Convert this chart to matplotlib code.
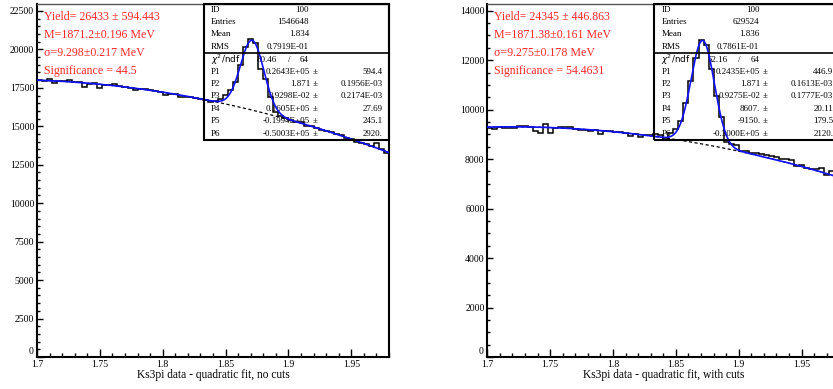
import numpy as np
import matplotlib
matplotlib.use("Agg")
import matplotlib.pyplot as plt
import matplotlib.patches as patches
from matplotlib.ticker import MultipleLocator, FormatStrFormatter, FuncFormatter

plt.rcParams["font.family"] = ["Liberation Serif", "DejaVu Serif"]
plt.rcParams["mathtext.fontset"] = "dejavusans"

# histogram binning: 70 bins from 1.7 to 1.98
x_lo, x_hi, n_bins = 1.7, 1.98, 70

counts_nocuts = [18000, 17960, 18080, 17830, 17950, 17920, 18020, 17880, 17860, 17550,
                 17780, 17820, 17520, 17710, 17660, 17720, 17590, 17560, 17520, 17350,
                 17450, 17400, 17370, 17280, 17230, 17020, 17080, 17100, 16900, 16920,
                 16900, 16860, 16760, 16700, 16600, 16620, 16750, 17030, 17360, 17900,
                 18980, 20170, 20660, 20400, 18700, 18100, 16900, 15900, 15650, 15550,
                 15420, 15300, 15250, 15000, 15030, 14920, 14780, 14720, 14600, 14500,
                 14420, 14250, 14180, 14000, 13920, 13850, 13700, 13900, 13550, 13250]

counts_cuts = [9270, 9230, 9300, 9250, 9260, 9250, 9330, 9340, 9280, 9150,
               9060, 9420, 9060, 9250, 9300, 9300, 9290, 9200, 9180, 9190,
               9150, 9160, 9000, 9140, 9130, 9110, 9080, 9060, 8950, 9020,
               8900, 8990, 8980, 9000, 8980, 8830, 9050, 9200, 9560, 10250,
               11150, 12100, 12800, 12620, 11650, 10550, 9720, 8700, 8600, 8560,
               8330, 8310, 8230, 8230, 8200, 8150, 8120, 8080, 7990, 8000,
               7950, 7720, 7780, 7650, 7600, 7580, 7650, 7350, 7500, 7300]

# fit parameters: yield, mean, sigma, p0, p1, p2 (quadratic background around mean)
fit_nocuts = [26433, 1.8712, 0.009298, 16050, -19940, -50030]
fit_cuts = [24345, 1.87138, 0.009275, 8607, -9150, -30000]

info_nocuts = ["Yield= 26433 ± 594.443", "M=1871.2±0.196 MeV",
               "σ=9.298±0.217 MeV", "Significance = 44.5"]
info_cuts = ["Yield= 24345 ± 446.863", "M=1871.38±0.161 MeV",
             "σ=9.275±0.178 MeV", "Significance = 54.4631"]

stats_nocuts = [("ID", "100"), ("Entries", "1546648"), ("Mean", "1.834"), ("RMS", "0.7919E-01")]
stats_cuts = [("ID", "100"), ("Entries", "629524"), ("Mean", "1.836"), ("RMS", "0.7861E-01")]

chi2_nocuts = ("80.46", "64")
chi2_cuts = ("52.16", "64")

pars_nocuts = [("P1", "0.2643E+05", "594.4"), ("P2", "1.871", "0.1956E-03"),
               ("P3", "0.9298E-02", "0.2174E-03"), ("P4", "0.1605E+05", "27.69"),
               ("P5", "-0.1994E+05", "245.1"), ("P6", "-0.5003E+05", "2920.")]
pars_cuts = [("P1", "0.2435E+05", "446.9"), ("P2", "1.871", "0.1613E-03"),
             ("P3", "0.9275E-02", "0.1777E-03"), ("P4", "8607.", "20.11"),
             ("P5", "-9150.", "179.5"), ("P6", "-0.3000E+05", "2120.")]

titles = ["Ks3pi data - quadratic fit, no cuts", "Ks3pi data - quadratic fit, with cuts"]

W, H = 833, 389
AX_W, AX_H = 352, 353
RED = "#ff2a2a"

fig = plt.figure(figsize=(W / 100, H / 100), dpi=100)


def draw_panel(left_px, counts, fit, info, stats, chi2, pars, title, ymax, ystep):
    ax = fig.add_axes([left_px / W, 32 / H, AX_W / W, AX_H / H])
    edges = np.linspace(x_lo, x_hi, n_bins + 1)
    bw = (x_hi - x_lo) / n_bins
    ax.stairs(counts, edges, baseline=None, color="black", lw=1.1, zorder=3)

    yld, m, s, p0, p1, p2 = fit
    xs = np.linspace(x_lo, x_hi, 800)
    bkg = p0 + p1 * (xs - m) + p2 * (xs - m) ** 2
    sig = yld * bw / (np.sqrt(2 * np.pi) * s) * np.exp(-0.5 * ((xs - m) / s) ** 2)
    ax.plot(xs, bkg, color="black", lw=0.9, dashes=(2.5, 2), zorder=3.5)
    ax.plot(xs, bkg + sig, color="#1010ff", lw=1.2, zorder=4)

    ax.set_xlim(x_lo, x_hi)
    ax.set_ylim(0, ymax)
    ax.xaxis.set_major_locator(MultipleLocator(0.05))
    ax.xaxis.set_minor_locator(MultipleLocator(0.01))
    ax.xaxis.set_major_formatter(FormatStrFormatter("%g"))
    ax.yaxis.set_major_locator(MultipleLocator(ystep))
    ax.yaxis.set_minor_locator(MultipleLocator(500))
    # the zero label sits a little higher, drawn separately below
    ax.yaxis.set_major_formatter(FuncFormatter(lambda v, p: "" if v == 0 else "%d" % v))
    ax.tick_params(axis="both", which="both", direction="in", top=False, right=False,
                   labelsize=7, pad=2, width=1)
    ax.tick_params(axis="x", which="major", length=5.5)
    ax.tick_params(axis="x", which="minor", length=3)
    ax.tick_params(axis="y", which="major", length=4.5)
    ax.tick_params(axis="y", which="minor", length=2.3)
    ax.annotate("0", xy=(0, 0), xycoords="axes fraction", xytext=(-2.5, 0.5),
                textcoords="offset points", ha="right", va="bottom", fontsize=7)
    for side in ["left", "bottom", "right"]:
        ax.spines[side].set_linewidth(1.5)
    ax.spines["top"].set_linewidth(1.0)
    ax.spines["top"].set_color("#555555")

    # red fit summary
    for i, line in enumerate(info):
        fig.text((left_px + 7) / W, 1 - (17.3 + 17.8 * i) / H, line, color=RED,
                 fontsize=8.6, ha="left", va="center")

    # stats box, anchored to the top right corner of the frame
    bx = (AX_W - 185) / AX_W
    by = 1 - 136 / AX_H
    box = patches.Rectangle((bx, by), 1 - bx, 1 - by, transform=ax.transAxes,
                            fill=False, lw=1.5, ec="black", zorder=5, clip_on=False)
    ax.add_patch(box)
    ax.plot([bx, 1], [1 - 49 / AX_H, 1 - 49 / AX_H], transform=ax.transAxes,
            color="black", lw=1.2, zorder=5, clip_on=False)

    def pos(dx, dy):
        return (AX_W - 185 + dx) / AX_W, 1 - dy / AX_H

    kw = dict(transform=ax.transAxes, fontsize=6.5, va="center", zorder=2, clip_on=False)
    for i, (lab, val) in enumerate(stats):
        dy = 5.8 + 12.3 * i
        ax.text(*pos(7, dy), lab, ha="left", **kw)
        ax.text(*pos(105, dy), val, ha="right", **kw)

    dy = 55.5
    ax.text(*pos(7, dy), r"$\chi^2$/ndf", ha="left", family="DejaVu Sans",
            transform=ax.transAxes, fontsize=6.3, va="center", zorder=2, clip_on=False)
    ax.text(*pos(73, dy), chi2[0], ha="right", **kw)
    ax.text(*pos(85, dy), "/", ha="center", **kw)
    ax.text(*pos(105, dy), chi2[1], ha="right", **kw)
    for i, (lab, val, err) in enumerate(pars):
        dy = 67.6 + 12.4 * i
        ax.text(*pos(7, dy), lab, ha="left", **kw)
        ax.text(*pos(106, dy), val, ha="right", **kw)
        ax.text(*pos(111, dy), "±", ha="center", **kw)
        ax.text(*pos(179, dy), err, ha="right", **kw)

    fig.text((left_px + AX_W / 2) / W, 14 / H, title, fontsize=8.3,
             ha="center", va="center")
    return ax


draw_panel(37, counts_nocuts, fit_nocuts, info_nocuts, stats_nocuts, chi2_nocuts,
           pars_nocuts, titles[0], 22950, 2500)
draw_panel(487.3, counts_cuts, fit_cuts, info_cuts, stats_cuts, chi2_cuts,
           pars_cuts, titles[1], 14270, 2000)

fig.savefig("out.png", dpi=100)
